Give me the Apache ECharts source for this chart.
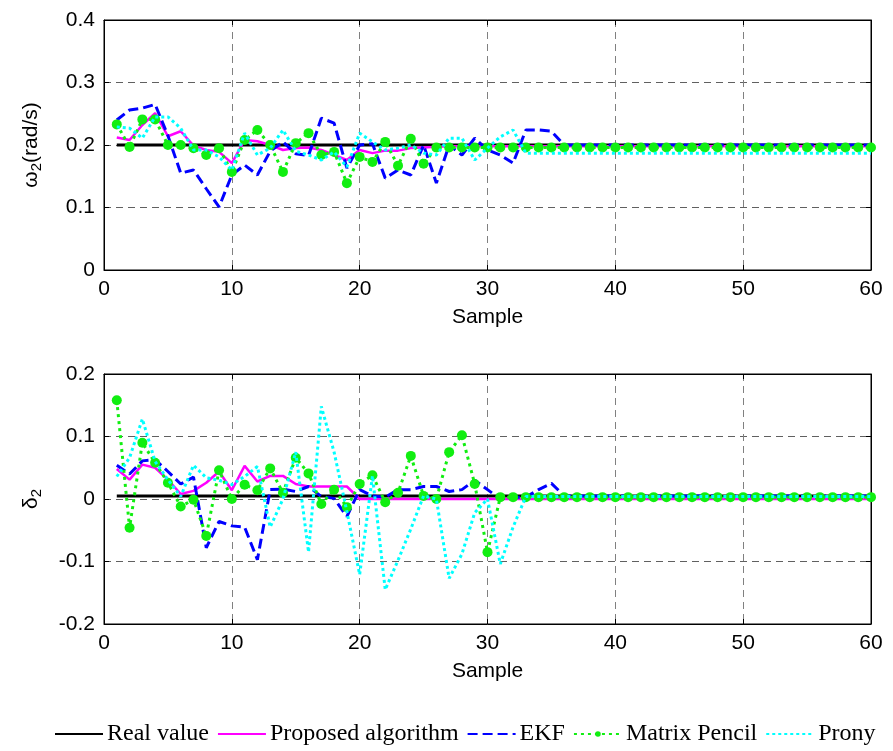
<!DOCTYPE html>
<html>
<head>
<meta charset="utf-8">
<script src="https://cdn.jsdelivr.net/npm/echarts@6/dist/echarts.min.js"></script>
<style>
html,body{margin:0;padding:0;background:#fff;}
#chart{width:893px;height:751px;}
</style>
</head>
<body>
<div id="chart"></div>
<script>
const samples = [];
for (let i = 1; i <= 60; i++) samples.push(i);

const seriesNames = ['Real value', 'Proposed algorithm', 'EKF', 'Matrix Pencil', 'Prony'];
const xTicks = [0, 10, 20, 30, 40, 50, 60];

// ---- omega_2 (rad/s) ----
const omegaReal = [0.2,0.2,0.2,0.2,0.2,0.2,0.2,0.2,0.2,0.2,0.2,0.2,0.2,0.2,0.2,0.2,0.2,0.2,0.2,0.2,0.2,0.2,0.2,0.2,0.2,0.2,0.2,0.2,0.2,0.2,0.2,0.2,0.2,0.2,0.2,0.2,0.2,0.2,0.2,0.2,0.2,0.2,0.2,0.2,0.2,0.2,0.2,0.2,0.2,0.2,0.2,0.2,0.2,0.2,0.2,0.2,0.2,0.2,0.2,0.2];
const omegaProposed = [0.212,0.208,0.232,0.251,0.214,0.222,0.199,0.192,0.189,0.171,0.208,0.206,0.200,0.192,0.195,0.196,0.192,0.184,0.176,0.192,0.187,0.191,0.191,0.195,0.196,0.197,0.198,0.198,0.198,0.198,0.198,0.198,0.198,0.198,0.198,0.198,0.198,0.198,0.198,0.198,0.198,0.198,0.198,0.198,0.198,0.198,0.198,0.198,0.198,0.198,0.198,0.198,0.198,0.198,0.198,0.198,0.198,0.198,0.198,0.198];
const omegaEKF = [0.240,0.256,0.259,0.265,0.215,0.155,0.160,0.130,0.101,0.152,0.168,0.152,0.190,0.205,0.186,0.183,0.243,0.235,0.163,0.200,0.202,0.147,0.160,0.152,0.200,0.139,0.200,0.184,0.211,0.192,0.184,0.171,0.224,0.224,0.222,0.200,0.2,0.2,0.2,0.2,0.2,0.2,0.2,0.2,0.2,0.2,0.2,0.2,0.2,0.2,0.2,0.2,0.2,0.2,0.2,0.2,0.2,0.2,0.2,0.2];
const omegaMP = [0.233,0.197,0.241,0.241,0.200,0.200,0.195,0.184,0.195,0.157,0.208,0.224,0.200,0.157,0.203,0.219,0.184,0.189,0.139,0.181,0.173,0.205,0.167,0.210,0.170,0.196,0.196,0.196,0.196,0.196,0.196,0.196,0.196,0.196,0.196,0.196,0.196,0.196,0.196,0.196,0.196,0.196,0.196,0.196,0.196,0.196,0.196,0.196,0.196,0.196,0.196,0.196,0.196,0.196,0.196,0.196,0.196,0.196,0.196,0.196];
const omegaProny = [0.229,0.227,0.211,0.245,0.245,0.227,0.192,0.192,0.181,0.160,0.219,0.184,0.195,0.224,0.190,0.184,0.176,0.189,0.165,0.219,0.205,0.192,0.195,0.200,0.187,0.184,0.211,0.211,0.176,0.195,0.213,0.224,0.187,0.187,0.187,0.187,0.187,0.187,0.187,0.187,0.187,0.187,0.187,0.187,0.187,0.187,0.187,0.187,0.187,0.187,0.187,0.187,0.187,0.187,0.187,0.187,0.187,0.187,0.187,0.187];

// ---- delta_2 ----
const deltaReal = [0.005,0.005,0.005,0.005,0.005,0.005,0.005,0.005,0.005,0.005,0.005,0.005,0.005,0.005,0.005,0.005,0.005,0.005,0.005,0.005,0.005,0.005,0.005,0.005,0.005,0.005,0.005,0.005,0.005,0.005,0.005,0.005,0.005,0.005,0.005,0.005,0.005,0.005,0.005,0.005,0.005,0.005,0.005,0.005,0.005,0.005,0.005,0.005,0.005,0.005,0.005,0.005,0.005,0.005,0.005,0.005,0.005,0.005,0.005,0.005];
const deltaProposed = [0.048,0.031,0.055,0.050,0.031,0.008,0.013,0.026,0.044,0.014,0.053,0.028,0.037,0.037,0.024,0.020,0.020,0.020,0.020,0.000,0.000,0.000,0.000,0.000,0.000,0.000,0.000,0.000,0.000,0.000,0.000,0.000,0.000,0.000,0.000,0.000,0.000,0.000,0.000,0.000,0.000,0.000,0.000,0.000,0.000,0.000,0.000,0.000,0.000,0.000,0.000,0.000,0.000,0.000,0.000,0.000,0.000,0.000,0.000,0.000];
const deltaEKF = [0.054,0.040,0.061,0.063,0.044,0.024,0.035,-0.078,-0.036,-0.043,-0.045,-0.097,0.015,0.016,0.012,0.020,0.004,0.001,-0.028,0.015,0.005,0.003,0.015,0.015,0.020,0.020,0.012,0.015,0.030,0.015,0.000,0.003,0.003,0.015,0.025,0.005,0.005,0.005,0.005,0.005,0.005,0.005,0.005,0.005,0.005,0.005,0.005,0.005,0.005,0.005,0.005,0.005,0.005,0.005,0.005,0.005,0.005,0.005,0.005,0.005];
const deltaMP = [0.158,-0.046,0.090,0.058,0.026,-0.012,-0.001,-0.059,0.046,0.000,0.023,0.014,0.049,0.010,0.066,0.041,-0.008,0.015,-0.013,0.024,0.038,-0.005,0.010,0.069,0.005,0.000,0.075,0.102,0.024,-0.085,0.003,0.003,0.003,0.003,0.003,0.003,0.003,0.003,0.003,0.003,0.003,0.003,0.003,0.003,0.003,0.003,0.003,0.003,0.003,0.003,0.003,0.003,0.003,0.003,0.003,0.003,0.003,0.003,0.003,0.003];
const deltaProny = [0.036,0.066,0.128,0.060,0.031,0.004,0.054,0.034,0.030,0.023,0.036,0.052,-0.045,0.000,0.075,-0.085,0.148,0.075,-0.020,-0.121,0.037,-0.145,-0.098,-0.048,0.005,0.000,-0.127,-0.088,-0.022,0.000,-0.104,-0.045,0.004,0.004,0.004,0.004,0.004,0.004,0.004,0.004,0.004,0.004,0.004,0.004,0.004,0.004,0.004,0.004,0.004,0.004,0.004,0.004,0.004,0.004,0.004,0.004,0.004,0.004,0.004,0.004];

const topTicks = [0, 0.1, 0.2, 0.3, 0.4];
const bottomTicks = [-0.2, -0.1, 0, 0.1, 0.2];

const FONT = 'Liberation Sans, Arial, sans-serif';
const pair = (arr) => arr.map((v, i) => [samples[i], v]);

function xAx(gi, pos) {
  const main = pos === 'bottom';
  return {
    type: 'value', gridIndex: gi, position: pos, min: xTicks[0], max: xTicks[xTicks.length - 1], interval: 10,
    name: main ? 'Sample' : '', nameLocation: 'middle', nameGap: 37,
    nameTextStyle: { fontFamily: FONT, fontSize: 21, color: '#000' },
    axisLine: { show: true, onZero: false, lineStyle: { color: '#000', width: 1 } },
    axisTick: { show: true, inside: true, length: 5, lineStyle: { color: '#000' } },
    axisLabel: { show: main, fontFamily: FONT, fontSize: 21, color: '#000', margin: 9 },
    splitLine: { show: main, lineStyle: { color: '#808080', type: [7, 5], width: 1 } }
  };
}
function yAx(gi, pos, ticks, nameRich) {
  const main = pos === 'left';
  return {
    type: 'value', gridIndex: gi, position: pos, min: ticks[0], max: ticks[ticks.length - 1], interval: 0.1,
    name: main ? nameRich : '', nameLocation: 'middle', nameGap: 60,
    nameTextStyle: {
      fontFamily: FONT, fontSize: 21, color: '#000',
      rich: {
        w: { fontFamily: FONT, fontSize: 21, color: '#000', lineHeight: 26 },
        s: { fontFamily: FONT, fontSize: 15, color: '#000', lineHeight: 15, verticalAlign: 'bottom' }
      }
    },
    axisLine: { show: true, onZero: false, lineStyle: { color: '#000', width: 1 } },
    axisTick: { show: true, inside: true, length: 5, lineStyle: { color: '#000' } },
    axisLabel: { show: main, fontFamily: FONT, fontSize: 21, color: '#000', margin: 9,
      formatter: (v) => String(Math.round(v * 10) / 10) },
    splitLine: { show: main, lineStyle: { color: '#606060', type: [7, 5], width: 1 } }
  };
}

const styles = [
  { color: '#000000', width: 3, type: 'solid', z: 2 },
  { color: '#ff00ff', width: 2.5, type: 'solid', z: 3 },
  { color: '#0000ff', width: 3, type: [10, 5], z: 4 },
  { color: '#11ee11', width: 3, type: [3, 4], z: 5, symbol: true },
  { color: '#00ffff', width: 3, type: [3, 3], z: 6 }
];
const topData = [omegaReal, omegaProposed, omegaEKF, omegaMP, omegaProny];
const botData = [deltaReal, deltaProposed, deltaEKF, deltaMP, deltaProny];

function mk(name, data, st, gi) {
  return {
    name: name, type: 'line', xAxisIndex: gi * 2, yAxisIndex: gi * 2, data: pair(data),
    z: st.z, showSymbol: !!st.symbol, symbol: st.symbol ? 'circle' : 'none', symbolSize: 10,
    itemStyle: { color: st.color, borderWidth: 0 },
    lineStyle: { color: st.color, width: st.width, type: st.type },
    emphasis: { disabled: true }, animation: false, clip: true
  };
}

const series = [];
seriesNames.forEach((n, i) => series.push(mk(n, topData[i], styles[i], 0)));
seriesNames.forEach((n, i) => series.push(mk(n, botData[i], styles[i], 1)));

const legendData = seriesNames.map((n, i) => ({
  name: n,
  itemStyle: styles[i].symbol ? { color: styles[i].color, opacity: 1 } : { opacity: 0 }
}));

const chart = echarts.init(document.getElementById('chart'), null, { renderer: 'canvas' });
chart.setOption({
  animation: false,
  backgroundColor: '#fff',
  grid: [
    { left: 104, right: 22, top: 20, height: 250, show: true, borderColor: '#000', borderWidth: 1 },
    { left: 104, right: 22, top: 374, height: 250, show: true, borderColor: '#000', borderWidth: 1 }
  ],
  xAxis: [xAx(0, 'bottom'), xAx(0, 'top'), xAx(1, 'bottom'), xAx(1, 'top')],
  yAxis: [
    yAx(0, 'left', topTicks, '{w|ω}{s|2}{w|(rad/s)}'), yAx(0, 'right', topTicks, ''),
    yAx(1, 'left', bottomTicks, '{w|δ}{s|2}'), yAx(1, 'right', bottomTicks, '')
  ],
  legend: {
    data: legendData, bottom: 0, left: 52, right: 0, itemWidth: 48, itemHeight: 7, itemGap: 8,
    padding: [5, 2, 5, 2],
    textStyle: { fontFamily: 'Liberation Serif, Times New Roman, serif', fontSize: 24, color: '#000', padding: [0, 0, 0, -1] },
    selectedMode: false
  },
  series: series
});
</script>
</body>
</html>
